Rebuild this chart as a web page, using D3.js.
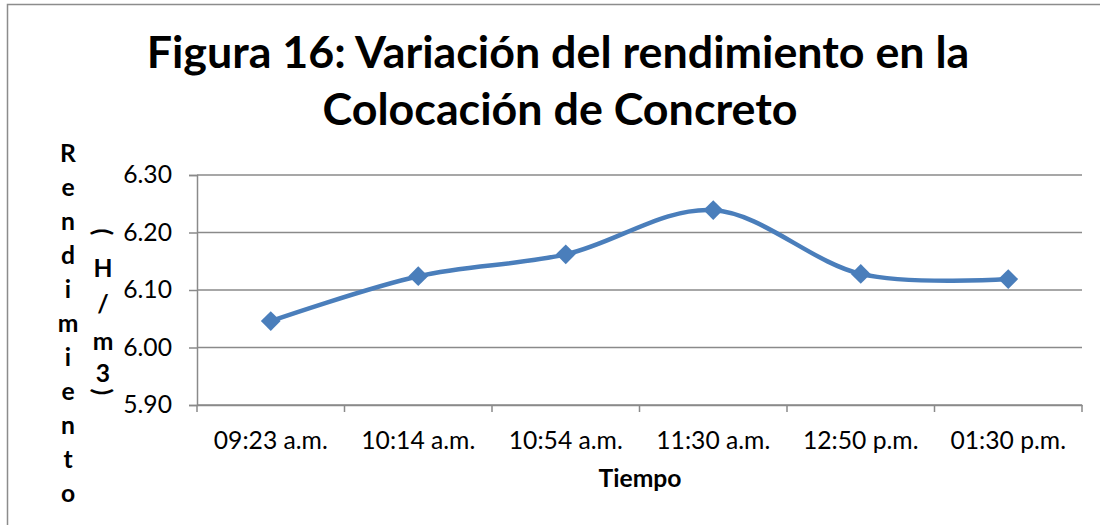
<!DOCTYPE html>
<html>
<head>
<meta charset="utf-8">
<script src="https://cdn.jsdelivr.net/npm/d3@7"></script>
<style>
  body { margin: 0; background: #fff; }
  svg { display: block; }
  svg text { font-family: Lato, "Open Sans", sans-serif; }
</style>
</head>
<body>
<div id="vis"></div>
<script>
// data
var categories = ["09:23 a.m.", "10:14 a.m.", "10:54 a.m.", "11:30 a.m.", "12:50 p.m.", "01:30 p.m."];
var rendimiento = [6.046, 6.124, 6.162, 6.239, 6.128, 6.119];
var yTicks = [5.90, 6.00, 6.10, 6.20, 6.30];
var titleLines = ["Figura 16: Variación del rendimiento en la", "Colocación de Concreto"];
var yTitle = "Rendimiento";
var yUnit = ["(", "H", "/", "m", "3", ")"];
var xTitle = "Tiempo";

var W = 1100, H = 525;
var margin = {top: 175, right: 18, bottom: 120, left: 197};
var width = W - margin.left - margin.right,
    height = H - margin.top - margin.bottom;

var svg = d3.select("#vis").append("svg")
    .attr("width", W)
    .attr("height", H);

// outer chart frame (only top and left edges visible in the crop)
svg.append("path")
    .attr("d", "M7.5,525 V4.5 H1100")
    .attr("fill", "none")
    .attr("stroke", "#8c8c8c")
    .attr("stroke-width", 1.5);

// scale a text to a given width by adjusting its font size
function fitSize(sel, target) {
  var s = parseFloat(sel.style("font-size"));
  var w = sel.node().getComputedTextLength();
  var ns = s * target / w;
  sel.style("font-size", ns + "px");
  return ns;
}

// title
var t1 = svg.append("text")
    .attr("x", 558).attr("y", 68)
    .attr("text-anchor", "middle")
    .style("font-weight", "bold").style("font-size", "36px")
    .text(titleLines[0]);
var ts = fitSize(t1, 823);
svg.append("text")
    .attr("x", 560).attr("y", 125)
    .attr("text-anchor", "middle")
    .style("font-weight", "bold").style("font-size", ts + "px")
    .text(titleLines[1]);

var g = svg.append("g")
    .attr("transform", "translate(" + margin.left + "," + margin.top + ")");

var x = d3.scaleBand()
    .domain(categories)
    .range([0, width]);

var y = d3.scaleLinear()
    .domain([5.90, 6.30])
    .range([height, 0]);

// gridlines
g.selectAll(".grid")
    .data(yTicks)
    .enter().append("line")
    .attr("x1", 0).attr("x2", width)
    .attr("y1", function(d) { return y(d); })
    .attr("y2", function(d) { return y(d); })
    .attr("stroke", "#8a8a8a")
    .attr("stroke-width", 1.5);

// y axis
var yAxis = g.append("g")
    .call(d3.axisLeft(y).tickValues(yTicks).tickSize(8).tickPadding(17)
      .tickFormat(d3.format(".2f")));
yAxis.select(".domain").attr("stroke", "#8a8a8a").attr("stroke-width", 1.5);
yAxis.selectAll(".tick line").attr("stroke", "#8a8a8a").attr("stroke-width", 1.5);
yAxis.selectAll("text").style("font-size", "20px").attr("fill", "#000");

// x axis: ticks at category boundaries
var xAxis = g.append("g")
    .attr("transform", "translate(0," + height + ")")
    .call(d3.axisBottom(x).tickSize(0).tickPadding(26));
xAxis.select(".domain").attr("stroke", "#8a8a8a").attr("stroke-width", 1.5);
xAxis.selectAll("text").style("font-size", "20px").attr("fill", "#000");
var bounds = categories.map(function(c) { return x(c); }).concat([width]);
xAxis.selectAll(".bound")
    .data(bounds)
    .enter().append("line")
    .attr("x1", function(d) { return d; })
    .attr("x2", function(d) { return d; })
    .attr("y1", 0).attr("y2", 7)
    .attr("stroke", "#8a8a8a")
    .attr("stroke-width", 1.5);

// fit tick label size to the reference width of "09:23 a.m."
var lblSize = fitSize(xAxis.select(".tick text"), 114);
xAxis.selectAll(".tick text").style("font-size", lblSize + "px");
yAxis.selectAll(".tick text").style("font-size", lblSize + "px");

// axis titles
var xt = svg.append("text")
    .attr("x", 640).attr("y", 487)
    .attr("text-anchor", "middle")
    .style("font-weight", "bold").style("font-size", "18px")
    .text(xTitle);
var axSize = fitSize(xt, 83);

var yLetters = yTitle.split("");
var yl = d3.scalePoint().domain(d3.range(yLetters.length)).range([152, 492]);
svg.selectAll(".ylet")
    .data(yLetters)
    .enter().append("text")
    .attr("x", 68)
    .attr("y", function(d, i) { return yl(i); })
    .attr("text-anchor", "middle")
    .attr("dominant-baseline", "central")
    .style("font-weight", "bold").style("font-size", axSize + "px")
    .text(function(d) { return d; });

var unitY = [232, 267, 303, 340, 372, 392];
svg.selectAll(".yunit")
    .data(yUnit)
    .enter().append("text")
    .attr("transform", function(d, i) {
      var t = "translate(103," + unitY[i] + ")";
      return (d === "(" || d === ")") ? t + " rotate(90)" : t;
    })
    .attr("text-anchor", "middle")
    .attr("dominant-baseline", "central")
    .style("font-weight", "bold").style("font-size", axSize + "px")
    .text(function(d) { return d; });

// smoothed line
var line = d3.line()
    .x(function(d, i) { return x(categories[i]) + x.bandwidth() / 2; })
    .y(function(d) { return y(d); })
    .curve(d3.curveCardinal.tension(0));

g.append("path")
    .datum(rendimiento)
    .attr("d", line)
    .attr("fill", "none")
    .attr("stroke", "#4a7ebb")
    .attr("stroke-width", 4.5);

// diamond markers
g.selectAll(".pt")
    .data(rendimiento)
    .enter().append("path")
    .attr("transform", function(d, i) {
      return "translate(" + (x(categories[i]) + x.bandwidth() / 2) + "," + y(d) + ")";
    })
    .attr("d", d3.symbol().type(d3.symbolDiamond2).size(250))
    .attr("fill", "#4a7ebb");
</script>
</body>
</html>
